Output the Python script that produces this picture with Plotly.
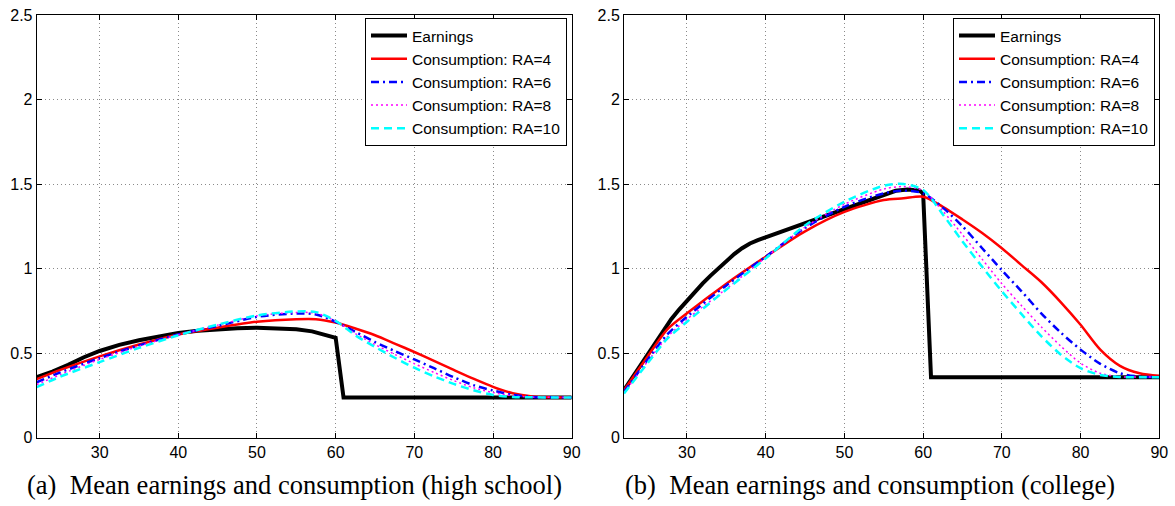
import plotly.graph_objects as go

# ---------------- data ----------------
# High school panel
hs_earn_age = [22, 24, 26, 28, 30, 32.5, 35, 37.5, 40, 42.5, 45, 47.5, 50, 52.5, 55, 57, 58.5, 60, 61, 90]
hs_earnings = [0.357, 0.39, 0.43, 0.475, 0.512, 0.548, 0.575, 0.60, 0.619, 0.632, 0.641, 0.647, 0.649,
               0.647, 0.641, 0.628, 0.612, 0.59, 0.237, 0.237]

hs_cons_age = [22, 25, 30, 35, 40, 45, 50, 55, 57.5, 60, 62.5, 65, 67.5, 70, 72.5, 75, 77.5, 80, 82.5, 85, 87.5, 90]
hs_ra4 = [0.345, 0.40, 0.48, 0.55, 0.61, 0.65, 0.685, 0.70, 0.70, 0.68, 0.645, 0.605, 0.556, 0.506, 0.453, 0.40, 0.348, 0.30, 0.262, 0.243, 0.238, 0.237]
hs_ra6 = [0.327, 0.385, 0.47, 0.545, 0.61, 0.66, 0.714, 0.734, 0.728, 0.685, 0.625, 0.565, 0.512, 0.462, 0.41, 0.357, 0.31, 0.278, 0.252, 0.24, 0.238, 0.237]
hs_ra8 = [0.313, 0.372, 0.462, 0.54, 0.608, 0.665, 0.72, 0.74, 0.735, 0.688, 0.615, 0.55, 0.492, 0.437, 0.385, 0.337, 0.295, 0.266, 0.247, 0.239, 0.238, 0.237]
hs_ra10 = [0.298, 0.36, 0.446, 0.53, 0.605, 0.668, 0.722, 0.746, 0.742, 0.69, 0.605, 0.536, 0.472, 0.413, 0.362, 0.317, 0.28, 0.252, 0.24, 0.238, 0.237, 0.237]

# College panel
co_earn_age = [22, 23, 24, 25, 26, 27, 28, 29, 30, 31, 32, 33, 34, 35, 36, 37, 38, 39, 40,
               42.5, 45, 47.5, 50, 52.5, 55, 56.5, 58, 59.5, 60, 61, 90]
co_earnings = [0.28, 0.35, 0.425, 0.50, 0.57, 0.64, 0.70, 0.757, 0.81, 0.862, 0.912, 0.958, 1.003,
               1.045, 1.085, 1.12, 1.148, 1.168, 1.185, 1.225, 1.265, 1.31, 1.35, 1.395, 1.44,
               1.46, 1.467, 1.462, 1.445, 0.357, 0.357]

co_cons_age = [22, 25, 27.5, 30, 35, 40, 45, 50, 55, 57.5, 60, 62.5, 65, 67.5, 70, 72.5, 75, 77.5, 80, 82.5, 85, 87.5, 90]
co_ra4 = [0.28, 0.48, 0.64, 0.735, 0.91, 1.07, 1.22, 1.335, 1.405, 1.415, 1.425, 1.365, 1.29, 1.21, 1.12, 1.02, 0.92, 0.80, 0.667, 0.52, 0.424, 0.38, 0.365]
co_ra6 = [0.27, 0.46, 0.61, 0.715, 0.90, 1.07, 1.24, 1.365, 1.445, 1.46, 1.445, 1.36, 1.25, 1.12, 0.99, 0.865, 0.735, 0.62, 0.52, 0.436, 0.38, 0.36, 0.358]
co_ra8 = [0.265, 0.45, 0.595, 0.70, 0.88, 1.065, 1.245, 1.38, 1.47, 1.485, 1.46, 1.34, 1.20, 1.055, 0.91, 0.78, 0.655, 0.54, 0.44, 0.38, 0.36, 0.358, 0.358]
co_ra10 = [0.26, 0.44, 0.585, 0.685, 0.875, 1.06, 1.255, 1.395, 1.49, 1.50, 1.465, 1.32, 1.16, 1.01, 0.865, 0.73, 0.60, 0.49, 0.41, 0.37, 0.358, 0.357, 0.357]

series_names = ["Earnings", "Consumption: RA=4", "Consumption: RA=6",
                "Consumption: RA=8", "Consumption: RA=10"]
y_ticks = [0, 0.5, 1, 1.5, 2, 2.5]
y_tick_text = ["0", "0.5", "1", "1.5", "2", "2.5"]
x_ticks = [30, 40, 50, 60, 70, 80, 90]
captions = ["(a)\u00a0 Mean earnings and consumption (high school)",
            "(b)\u00a0 Mean earnings and consumption (college)"]

# ---------------- styling ----------------
styles = [
    dict(color="#000000", width=4, dash="solid"),
    dict(color="#ff0000", width=2.5, dash="solid"),
    dict(color="#0000ff", width=2.5, dash="8px,4px,2px,4px"),
    dict(color="#ff00ff", width=1.5, dash="2px,3px"),
    dict(color="#00ffff", width=2.5, dash="8px,5px"),
]

W, H = 1175, 506
x_dom = [[36.7 / W, 571.7 / W], [624 / W, 1159.3 / W]]
y_dom = [1 - 437.5 / H, 1 - 15 / H]

fig = go.Figure()

panels = [
    (hs_earn_age, hs_earnings, hs_cons_age, [hs_ra4, hs_ra6, hs_ra8, hs_ra10]),
    (co_earn_age, co_earnings, co_cons_age, [co_ra4, co_ra6, co_ra8, co_ra10]),
]

for p, (ea, ev, ca, cons) in enumerate(panels):
    xa = "x" if p == 0 else "x2"
    ya = "y" if p == 0 else "y2"
    lg = "legend" if p == 0 else "legend2"
    fig.add_trace(go.Scatter(x=ea, y=ev, mode="lines", name=series_names[0],
                             line=styles[0], xaxis=xa, yaxis=ya, legend=lg))
    for i, cv in enumerate(cons):
        fig.add_trace(go.Scatter(x=ca, y=cv, mode="lines", name=series_names[i + 1],
                                 line=dict(**styles[i + 1], shape="spline", smoothing=0.8),
                                 xaxis=xa, yaxis=ya, legend=lg))

tick_font = dict(family="Liberation Sans, Arial, sans-serif", size=16, color="#000")
axis_common = dict(showline=True, linecolor="#000", linewidth=1, mirror="ticks",
                   ticks="inside", ticklen=5, tickcolor="#000", tickwidth=1,
                   showgrid=True, gridcolor="#8a8a8a", gridwidth=1, griddash="1px,3px",
                   zeroline=False, tickfont=tick_font, automargin=False)

for p in range(2):
    sfx = "" if p == 0 else "2"
    fig.layout["xaxis" + sfx] = dict(axis_common, domain=x_dom[p], range=[22, 90],
                                     tickvals=x_ticks, anchor="y" + sfx)
    fig.layout["yaxis" + sfx] = dict(axis_common, domain=y_dom, range=[0, 2.5],
                                     tickvals=y_ticks, ticktext=y_tick_text,
                                     anchor="x" + sfx)

legend_common = dict(xanchor="right", yanchor="top", bgcolor="#fff",
                     bordercolor="#000", borderwidth=1, itemwidth=36,
                     tracegroupgap=0,
                     font=dict(family="Liberation Sans, Arial, sans-serif", size=15.5, color="#000"))
fig.update_layout(
    legend=dict(legend_common, x=567 / W, y=1 - 18 / H),
    legend2=dict(legend_common, x=1155 / W, y=1 - 18 / H),
)

for p, cx in enumerate([295, 870]):
    fig.add_annotation(text=captions[p], xref="paper", yref="paper",
                       x=cx / W, y=1 - 485 / H, xanchor="center", yanchor="middle",
                       showarrow=False,
                       font=dict(family="Liberation Serif, DejaVu Serif, serif", size=26.5, color="#000"))

fig.update_layout(width=W, height=H, margin=dict(l=0, r=0, t=0, b=0, autoexpand=False),
                  paper_bgcolor="#fff", plot_bgcolor="#fff", showlegend=True)

fig.write_html("out.html")
